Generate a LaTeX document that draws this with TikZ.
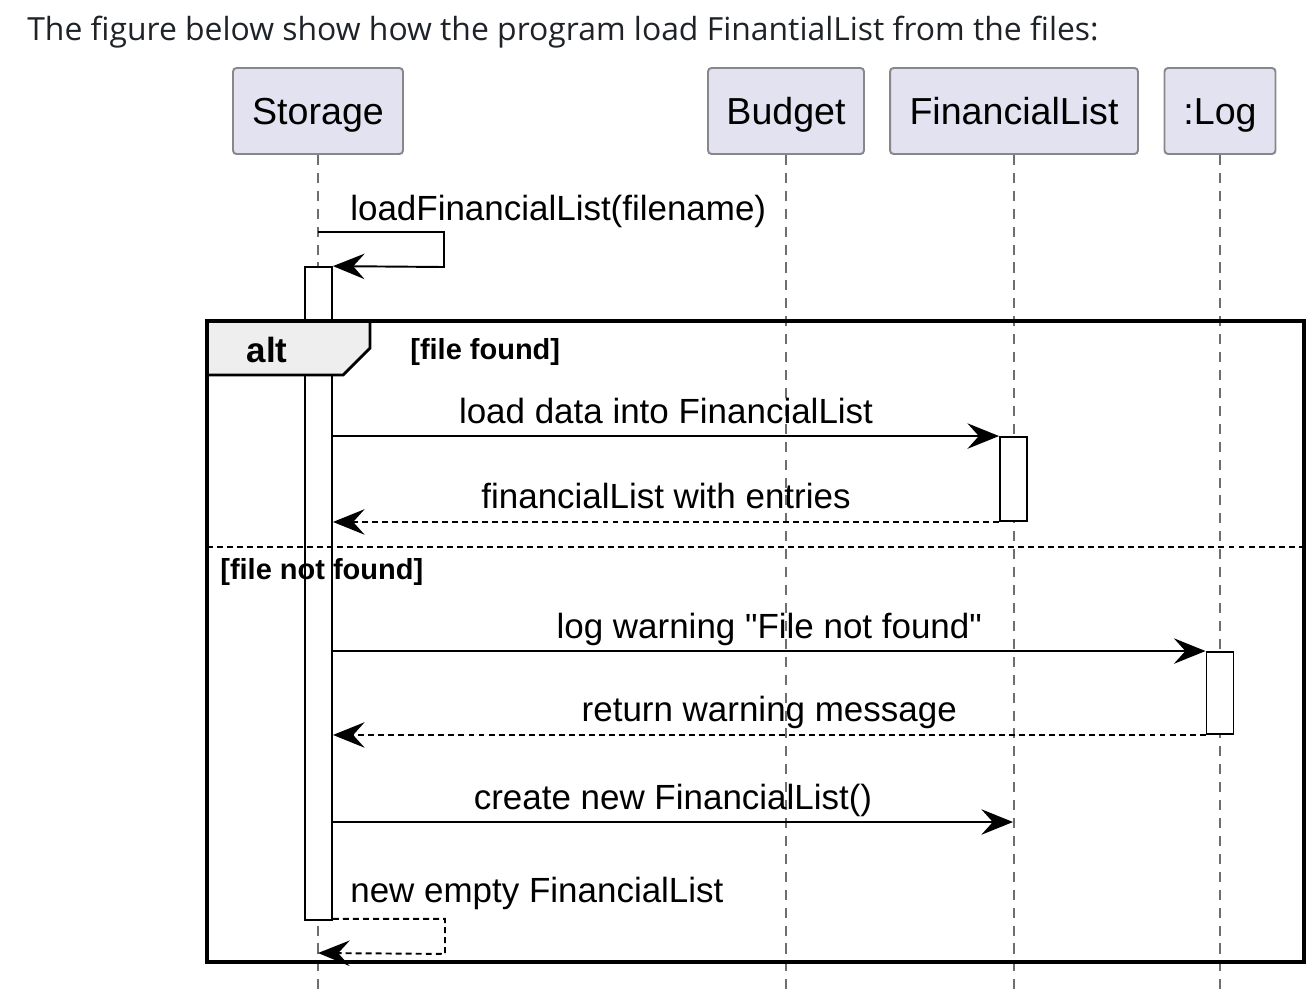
\documentclass[tikz,border=0pt]{standalone}
\usepackage{fontspec}
\setmainfont{Liberation Sans}
\newfontfamily\titlefont{Open Sans}
\usetikzlibrary{arrows.meta,positioning}
\definecolor{partfill}{HTML}{E2E2F0}
\definecolor{partdraw}{HTML}{888888}
\definecolor{tabfill}{HTML}{EEEEEE}
\definecolor{lifegray}{HTML}{6E6E6E}
\definecolor{titlecol}{HTML}{1F2328}
\tikzset{
  participant/.style={draw=partdraw, fill=partfill, line width=1.1pt, rounded corners=2pt,
    minimum height=1.72cm, inner sep=0pt, text height=16pt, text depth=1.2pt,
    font=\fontsize{21.4}{24}\selectfont},
  lifeline/.style={draw=lifegray, line width=0.8pt, dash pattern=on 5.7pt off 4.5pt},
  activation/.style={draw, fill=white, line width=1.1pt, minimum width=0.54cm, inner sep=0pt},
  msg/.style={line width=1.1pt, -{Stealth[length=18pt,width=14.5pt,inset=6.5pt]}},
  ret/.style={msg, dash pattern=on 3.4pt off 2.3pt},
  msgfont/.style={inner sep=0pt, font=\fontsize{19.9}{22}\selectfont},
  msglabel/.style={msgfont, anchor=base, yshift=0.26cm},
  selflabel/.style={msgfont, anchor=base west},
  guard/.style={anchor=west, inner sep=0pt, font=\bfseries\fontsize{16.5}{19}\selectfont},
}
\begin{document}
\begin{tikzpicture}[x=0.02cm,y=-0.02cm]
\useasboundingbox[fill=white] (0,0) rectangle (1315,995);
\node[anchor=base west, inner sep=0pt, text=titlecol, font=\titlefont\fontsize{18.15}{21}\selectfont]
  (title) at (27,40) {The figure below show how the program load FinantialList from the files:};

% participants
\node[participant, minimum width=3.4cm]  (stor) at (318,111)  {Storage};
\node[participant, minimum width=3.12cm] (bud)  at (786,111)  {Budget};
\node[participant, minimum width=4.96cm] (fin)  at (1014,111) {FinancialList};
\node[participant, minimum width=2.22cm] (log)  at (1220,111) {:Log};

\coordinate (bottom) at (0,995);
\foreach \p in {stor,bud,fin,log}
  \draw[lifeline] (\p.south) -- (\p.south |- bottom);

% activations
\node[activation, minimum height=13.06cm] (actS)   at (318.5,593.5) {};
\node[activation, minimum height=1.68cm]  (actFL)  at (1013.5,479)  {};
\node[activation, minimum height=1.64cm]  (actLog) at (1220,693)    {};

% alt frame
\draw[fill=tabfill, line width=1.6pt] (207,321) -- (370,321) -- (370,348) -- (343,375) -- (207,375) -- cycle;
\draw[line width=2.2pt] (207,321) rectangle (1304,962);
\draw[line width=1.1pt, dash pattern=on 3.4pt off 2.3pt] (207,547) -- (1304,547);
\node[inner sep=0pt, font=\bfseries\fontsize{19.9}{22}\selectfont] (alt) at (267,350) {alt};
\node[guard] (found) at (410,352) {[file found]};
\node[guard] (notfound) at (220,572) {[file not found]};

% messages
\coordinate (selfA) at (318,232);
\node[selflabel] (l0) at (350,220) {loadFinancialList(filename)};
\draw[msg] (selfA) -- ++(126,0) -- ++(0,35) -- (actS.north east);

\draw[msg] (actS.east |- actFL.north) -- (actFL.north west)
  node[midway, msglabel] {load data into FinancialList};
\draw[ret] (actFL.south west) -- (actS.east |- actFL.south)
  node[midway, msglabel] {financialList with entries};
\draw[msg] (actS.east |- actLog.north) -- (actLog.north west)
  node[midway, msglabel] {log warning \textquotedbl File not found\textquotedbl};
\draw[ret] (actLog.south west) -- (actS.east |- actLog.south)
  node[midway, msglabel] {return warning message};

\coordinate (newFL) at (1013,822);
\draw[msg] (actS.east |- newFL) -- (newFL)
  node[midway, msglabel] {create new FinancialList()};

\coordinate (selfB) at (318,953);
\node[selflabel] (l6) at (350,902) {new empty FinancialList};
\draw[ret] ([yshift=0.04cm]actS.south east) -- ++(112,0) -- ++(0,35) -- (selfB);
\end{tikzpicture}
\end{document}
